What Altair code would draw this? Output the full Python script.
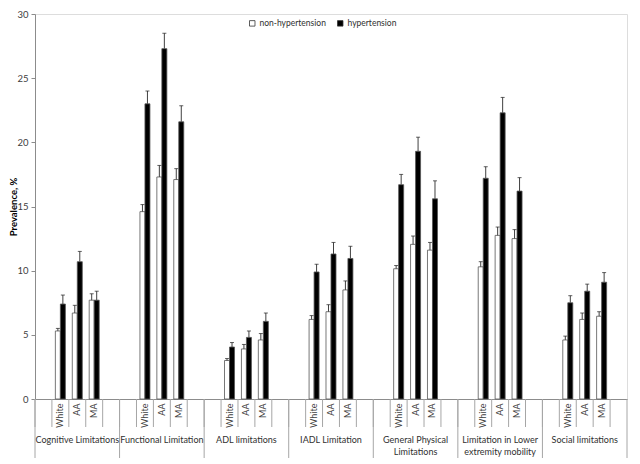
import altair as alt
import pandas as pd

groups = ["Cognitive Limitations", "Functional Limitation", "ADL limitations",
          "IADL Limitation", "General Physical\nLimitations",
          "Limitation in Lower\nextremity mobility", "Social limitations"]
subgroups = ["White", "AA", "MA"]
series = ["non-hypertension", "hypertension"]

non_ht = [5.3, 6.7, 7.7, 14.6, 17.3, 17.1, 3.0, 3.9, 4.6, 6.2, 6.8, 8.5,
          10.15, 12.05, 11.6, 10.3, 12.75, 12.5, 4.6, 6.2, 6.45]
non_ht_err = [0.2, 0.6, 0.5, 0.55, 0.9, 0.85, 0.15, 0.35, 0.5, 0.3, 0.55, 0.7,
              0.25, 0.65, 0.6, 0.4, 0.65, 0.7, 0.3, 0.5, 0.35]
ht = [7.4, 10.7, 7.7, 23.0, 27.3, 21.6, 4.05, 4.8, 6.05, 9.9, 11.3, 10.95,
      16.7, 19.3, 15.6, 17.2, 22.3, 16.2, 7.5, 8.4, 9.1]
ht_err = [0.7, 0.8, 0.7, 1.0, 1.2, 1.25, 0.35, 0.5, 0.65, 0.6, 0.9, 0.95,
          0.8, 1.1, 1.4, 0.9, 1.2, 1.05, 0.55, 0.55, 0.75]

# slot layout: blank, White, AA, MA, blank for each group
slots = []
for g in groups:
    slots += [g + "|", g + "|White", g + "|AA", g + "|MA", g + "| "]

rows = []
i = 0
for g in groups:
    for s in subgroups:
        rows.append({"slot": g + "|" + s, "series": series[0], "value": non_ht[i],
                     "upper": non_ht[i] + non_ht_err[i]})
        rows.append({"slot": g + "|" + s, "series": series[1], "value": ht[i],
                     "upper": ht[i] + ht_err[i]})
        i += 1
df = pd.DataFrame(rows)
df_slots = pd.DataFrame({"slot": slots})
df_groups = pd.DataFrame({"slot": [g + "|" for g in groups]})
df_labels = pd.DataFrame({"slot": [g + "|AA" for g in groups], "label": groups})

W, H = 592, 385
FONT = "Lato"
GRID = "#a6a6a6"

xscale = alt.Scale(domain=slots, paddingInner=0, paddingOuter=0)
x_enc = alt.X("slot:N", scale=xscale, title=None,
              axis=alt.Axis(labelExpr="trim(split(datum.value, '|')[1])",
                            labelAngle=270, ticks=False, labelPadding=4,
                            labelFontSize=9, labelColor="#404040",
                            domainColor="#8c8c8c", labelFont=FONT))
y_enc_axis = alt.Y("value:Q", scale=alt.Scale(domain=[0, 30], nice=False),
                   title="Prevalence, %",
                   axis=alt.Axis(values=[0, 5, 10, 15, 20, 25, 30], grid=False,
                                 tickSize=4, tickColor="#8c8c8c",
                                 domainColor="#8c8c8c", labelFontSize=9.5,
                                 labelColor="#404040", labelPadding=3,
                                 titleFontSize=9.5, titleFontWeight="bold",
                                 titleColor="#000000", titleAngle=270,
                                 titleX=-22, titleY=H / 2, titleBaseline="middle",
                                 titleAlign="center",
                                 labelFont=FONT, titleFont=FONT))

bars = alt.Chart(df).mark_bar(stroke="#555555", strokeWidth=0.8).encode(
    x=x_enc,
    xOffset=alt.XOffset("series:N", sort=series,
                        scale=alt.Scale(domain=series, paddingInner=0, paddingOuter=0.69)),
    y=y_enc_axis,
    fill=alt.Fill("series:N",
                  scale=alt.Scale(domain=series, range=["#ffffff", "#000000"]),
                  legend=alt.Legend(title=None, orient="none", legendX=213, legendY=5,
                                    direction="horizontal", symbolType="square",
                                    symbolSize=30, symbolStrokeColor="#333333",
                                    symbolStrokeWidth=0.8, labelFontSize=8.5,
                                    labelColor="#303030", labelFont=FONT,
                                    columnPadding=9, labelOffset=3)),
)

err_rule = alt.Chart(df).mark_rule(color="#404040", strokeWidth=1).encode(
    x=alt.X("slot:N", scale=xscale),
    xOffset=alt.XOffset("series:N", sort=series),
    y=alt.Y("value:Q"),
    y2="upper:Q",
)
err_cap = alt.Chart(df).mark_tick(color="#202020", orient="horizontal",
                                  size=4, thickness=1).encode(
    x=alt.X("slot:N", scale=xscale),
    xOffset=alt.XOffset("series:N", sort=series),
    y=alt.Y("upper:Q"),
)

small_ticks = alt.Chart(df_slots).mark_rule(color=GRID, strokeWidth=1).encode(
    x=alt.X("slot:N", scale=xscale, bandPosition=0),
    y=alt.value(H), y2=alt.value(H + 28),
)
long_ticks = alt.Chart(df_groups).mark_rule(color=GRID, strokeWidth=1).encode(
    x=alt.X("slot:N", scale=xscale, bandPosition=0),
    y=alt.value(H), y2=alt.value(H + 59),
)
end_tick = alt.Chart(df_groups.head(1)).mark_rule(color=GRID, strokeWidth=1).encode(
    x=alt.value(W), y=alt.value(H), y2=alt.value(H + 59),
)
group_text = alt.Chart(df_labels).mark_text(
    lineBreak="\n", baseline="top", align="center", fontSize=9,
    font=FONT, color="#303030", lineHeight=11.5,
).encode(
    x=alt.X("slot:N", scale=xscale),
    y=alt.value(H + 37),
    text="label:N",
)

chart = alt.layer(small_ticks, long_ticks, end_tick, bars, err_rule, err_cap,
                  group_text).properties(
    width=W, height=H,
    autosize=alt.AutoSizeParams(type="none"),
    padding={"left": 27, "top": 6, "right": 5, "bottom": 60},
).configure_view(fill="#e7e7e7", strokeWidth=0).configure(font=FONT)

chart.save("out.html", embed_options={"renderer": "svg", "actions": False})
